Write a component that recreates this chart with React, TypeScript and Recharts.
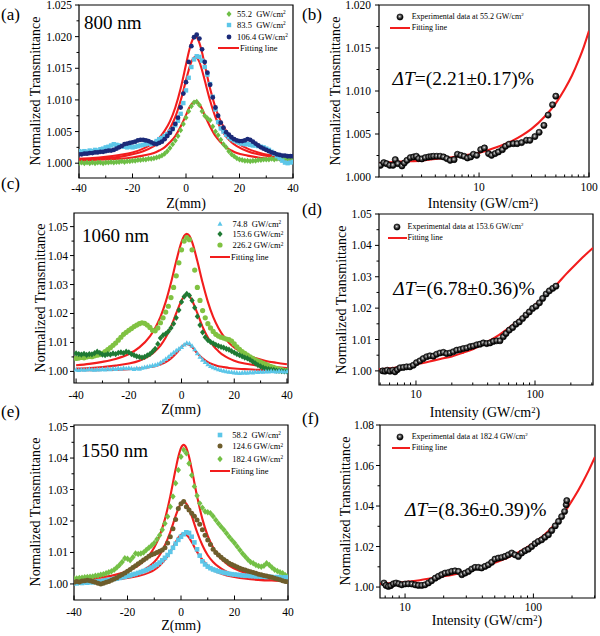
import React from "react";
import { ComposedChart, Scatter, Line, XAxis, YAxis, ReferenceArea } from "recharts";

const FONT = '"Liberation Serif", "DejaVu Serif", serif';
const RED = "#f21d1d";

// Z-scan positions (mm)
const Z_SCAN = [
  -40, -39, -38, -37, -36, -35, -34, -33, -32, -31, -30, -29, -28, -27, -26, -25, -24, -23, -22, -21,
  -20, -19, -18, -17, -16, -15, -14, -13, -12, -11, -10, -9, -8, -7, -6, -5, -4, -3, -2, -1,
  0, 1, 2, 3, 4, 5, 6, 7, 8, 9, 10, 11, 12, 13, 14, 15, 16, 17, 18, 19,
  20, 21, 22, 23, 24, 25, 26, 27, 28, 29, 30, 31, 32, 33, 34, 35, 36, 37, 38, 39, 40,
];

// (a) 800 nm
const A_552 = [
  1.0000, 1.0001, 1.0000, 1.0001, 1.0000, 1.0001, 1.0000, 1.0001, 1.0001, 1.0000,
  1.0001, 1.0001, 1.0002, 1.0001, 1.0002, 1.0002, 1.0003, 1.0002, 1.0003, 1.0003,
  1.0004, 1.0004, 1.0005, 1.0005, 1.0006, 1.0006, 1.0007, 1.0007, 1.0008, 1.0009,
  1.0010, 1.0012, 1.0015, 1.0019, 1.0024, 1.0030, 1.0036, 1.0043, 1.0052, 1.0062,
  1.0072, 1.0082, 1.0090, 1.0096, 1.0097, 1.0092, 1.0082, 1.0075, 1.0071, 1.0068,
  1.0058, 1.0050, 1.0044, 1.0037, 1.0030, 1.0025, 1.0019, 1.0014, 1.0011, 1.0008,
  1.0006, 1.0005, 1.0004, 1.0004, 1.0003, 1.0004, 1.0004, 1.0005, 1.0005, 1.0006,
  1.0006, 1.0006, 1.0007, 1.0006, 1.0007, 1.0007, 1.0007, 1.0008, 1.0007, 1.0008, 1.0008,
];
const A_835 = [
  1.0019, 1.0018, 1.0019, 1.0018, 1.0020, 1.0019, 1.0021, 1.0020, 1.0022, 1.0023,
  1.0025, 1.0026, 1.0028, 1.0030, 1.0029, 1.0028, 1.0027, 1.0026, 1.0025, 1.0026,
  1.0025, 1.0026, 1.0027, 1.0028, 1.0029, 1.0030, 1.0031, 1.0030, 1.0032, 1.0035,
  1.0038, 1.0040, 1.0043, 1.0046, 1.0050, 1.0054, 1.0060, 1.0067, 1.0078, 1.0095,
  1.0115, 1.0135, 1.0152, 1.0164, 1.0169, 1.0168, 1.0162, 1.0152, 1.0140, 1.0125,
  1.0105, 1.0085, 1.0065, 1.0055, 1.0050, 1.0045, 1.0041, 1.0038, 1.0036, 1.0034,
  1.0032, 1.0031, 1.0030, 1.0030, 1.0029, 1.0028, 1.0028, 1.0027, 1.0026, 1.0025,
  1.0023, 1.0021, 1.0018, 1.0015, 1.0011, 1.0008, 1.0004, 1.0001, 1.0000, 1.0001, 1.0002,
];
const A_1064 = [
  1.0014, 1.0014, 1.0015, 1.0015, 1.0016, 1.0016, 1.0017, 1.0017, 1.0018, 1.0018,
  1.0019, 1.0020, 1.0020, 1.0021, 1.0023, 1.0025, 1.0027, 1.0030, 1.0031, 1.0032,
  1.0033, 1.0034, 1.0036, 1.0037, 1.0037, 1.0036, 1.0035, 1.0033, 1.0031, 1.0030,
  1.0032, 1.0034, 1.0038, 1.0043, 1.0048, 1.0054, 1.0062, 1.0072, 1.0088, 1.0110,
  1.0128, 1.0160, 1.0185, 1.0199, 1.0203, 1.0197, 1.0180, 1.0160, 1.0143, 1.0124,
  1.0104, 1.0088, 1.0075, 1.0064, 1.0056, 1.0049, 1.0045, 1.0041, 1.0038, 1.0036,
  1.0035, 1.0035, 1.0036, 1.0038, 1.0037, 1.0034, 1.0031, 1.0028, 1.0025, 1.0023,
  1.0021, 1.0019, 1.0017, 1.0016, 1.0014, 1.0013, 1.0012, 1.0012, 1.0011, 1.0011, 1.0011,
];
const A_FIT_Z = [-40, -35, -30, -25, -20, -16, -12, -10, -8, -6, -4, -2, 0, 1, 2, 3, 3.5, 4, 5, 6, 7, 9, 11, 13, 15, 17, 19, 23, 27, 31, 35, 40];
const A_FIT_HI = [1.0007, 1.0008, 1.001, 1.0013, 1.0017, 1.0023, 1.0033, 1.004, 1.0051, 1.0066, 1.0088, 1.0118, 1.0156, 1.0175, 1.019, 1.0199, 1.02, 1.0199, 1.019, 1.0175, 1.0156, 1.0118, 1.0088, 1.0066, 1.0051, 1.004, 1.0033, 1.0023, 1.0017, 1.0013, 1.0011, 1.0009];
const A_FIT_MID = [1.0006, 1.0007, 1.0008, 1.001, 1.0014, 1.0019, 1.0027, 1.0033, 1.0042, 1.0055, 1.0073, 1.0099, 1.0131, 1.0147, 1.016, 1.0167, 1.0168, 1.0167, 1.016, 1.0147, 1.0131, 1.0099, 1.0073, 1.0055, 1.0042, 1.0033, 1.0027, 1.0019, 1.0014, 1.0011, 1.0009, 1.0007];
const A_FIT_LO = [1.0004, 1.0005, 1.0006, 1.0007, 1.0009, 1.0012, 1.0016, 1.002, 1.0025, 1.0033, 1.0043, 1.0058, 1.0076, 1.0086, 1.0093, 1.0097, 1.0098, 1.0097, 1.0093, 1.0086, 1.0076, 1.0058, 1.0043, 1.0033, 1.0025, 1.002, 1.0016, 1.0012, 1.0009, 1.0007, 1.0006, 1.0005];

// (c) 1060 nm
const C_748 = [
  1.0006, 1.0004, 1.0007, 1.0005, 1.0006, 1.0008, 1.0006, 1.0005, 1.0007, 1.0006,
  1.0008, 1.0006, 1.0009, 1.0007, 1.0010, 1.0008, 1.0011, 1.0009, 1.0012, 1.0010,
  1.0012, 1.0010, 1.0008, 1.0011, 1.0009, 1.0012, 1.0014, 1.0016, 1.0018, 1.0020,
  1.0022, 1.0025, 1.0030, 1.0036, 1.0043, 1.0050, 1.0058, 1.0065, 1.0072, 1.0078,
  1.0084, 1.0092, 1.0098, 1.0096, 1.0088, 1.0076, 1.0062, 1.0050, 1.0040, 1.0032,
  1.0024, 1.0018, 1.0014, 1.0010, 1.0007, 1.0004, 1.0002, 1.0000, 0.9998, 0.9997,
  0.9996, 0.9995, 0.9994, 0.9995, 0.9996, 0.9995, 0.9997, 0.9996, 0.9998, 0.9997,
  0.9999, 0.9998, 1.0000, 0.9999, 1.0001, 1.0000, 0.9999, 1.0001, 1.0000, 0.9999, 1.0000,
];
const C_1536 = [
  1.0062, 1.0060, 1.0058, 1.0061, 1.0057, 1.0060, 1.0059, 1.0063, 1.0068, 1.0064,
  1.0058, 1.0056, 1.0060, 1.0058, 1.0062, 1.0060, 1.0064, 1.0066, 1.0063, 1.0068,
  1.0066, 1.0060, 1.0056, 1.0052, 1.0050, 1.0048, 1.0050, 1.0055, 1.0060, 1.0068,
  1.0078, 1.0095, 1.0115, 1.0125, 1.0130, 1.0138, 1.0150, 1.0165, 1.0185, 1.0212,
  1.0240, 1.0258, 1.0268, 1.0262, 1.0245, 1.0220, 1.0190, 1.0160, 1.0135, 1.0118,
  1.0108, 1.0102, 1.0097, 1.0092, 1.0088, 1.0085, 1.0082, 1.0078, 1.0075, 1.0070,
  1.0065, 1.0060, 1.0056, 1.0052, 1.0048, 1.0045, 1.0040, 1.0034, 1.0028, 1.0022,
  1.0017, 1.0013, 1.0010, 1.0008, 1.0006, 1.0005, 1.0003, 1.0002, 1.0001, 1.0000, 1.0000,
];
const C_2262 = [
  1.0045, 1.0046, 1.0048, 1.0047, 1.0050, 1.0052, 1.0051, 1.0054, 1.0056, 1.0058,
  1.0062, 1.0068, 1.0075, 1.0082, 1.0090, 1.0098, 1.0108, 1.0118, 1.0128, 1.0135,
  1.0142, 1.0148, 1.0155, 1.0160, 1.0165, 1.0168, 1.0166, 1.0160, 1.0152, 1.0142,
  1.0140, 1.0150, 1.0168, 1.0185, 1.0205, 1.0225, 1.0255, 1.0290, 1.0330, 1.0375,
  1.0420, 1.0450, 1.0462, 1.0455, 1.0420, 1.0350, 1.0290, 1.0245, 1.0210, 1.0185,
  1.0165, 1.0150, 1.0138, 1.0128, 1.0122, 1.0118, 1.0115, 1.0112, 1.0110, 1.0105,
  1.0095, 1.0085, 1.0076, 1.0068, 1.0062, 1.0056, 1.0050, 1.0045, 1.0040, 1.0036,
  1.0032, 1.0028, 1.0024, 1.0020, 1.0017, 1.0014, 1.0011, 1.0008, 1.0006, 1.0004, 1.0003,
];
const C_FIT_Z = [-40, -35, -30, -25, -20, -16, -12, -10, -8, -6, -4, -2, 0, 1, 2, 3, 4, 6, 8, 10, 12, 14, 16, 18, 20, 24, 28, 32, 36, 40];
const C_FIT_HI = [1.0021, 1.0026, 1.0033, 1.0043, 1.006, 1.0083, 1.0121, 1.015, 1.0188, 1.024, 1.0306, 1.0381, 1.0447, 1.0468, 1.0475, 1.0468, 1.0447, 1.0381, 1.0306, 1.024, 1.0188, 1.015, 1.0121, 1.0099, 1.0083, 1.006, 1.0046, 1.0036, 1.003, 1.0025];
const C_FIT_MID = [1.001, 1.0012, 1.0015, 1.002, 1.0027, 1.0037, 1.0055, 1.007, 1.0089, 1.0117, 1.0154, 1.0201, 1.0245, 1.026, 1.0265, 1.026, 1.0245, 1.0201, 1.0154, 1.0117, 1.0089, 1.007, 1.0055, 1.0045, 1.0037, 1.0027, 1.0021, 1.0017, 1.0014, 1.0012];
const C_FIT_LO = [1.0004, 1.0004, 1.0005, 1.0006, 1.0008, 1.001, 1.0015, 1.0018, 1.0024, 1.0032, 1.0045, 1.0063, 1.0084, 1.0092, 1.0095, 1.0092, 1.0084, 1.0063, 1.0045, 1.0032, 1.0024, 1.0018, 1.0015, 1.0012, 1.001, 1.0008, 1.0006, 1.0005, 1.0004, 1.0004];

// (e) 1550 nm
const E_582 = [
  1.0003, 1.0002, 1.0004, 1.0003, 1.0005, 1.0004, 1.0006, 1.0005, 1.0007, 1.0008,
  1.0008, 1.0010, 1.0011, 1.0013, 1.0014, 1.0016, 1.0017, 1.0019, 1.0021, 1.0023,
  1.0025, 1.0027, 1.0030, 1.0032, 1.0035, 1.0038, 1.0041, 1.0044, 1.0048, 1.0052,
  1.0057, 1.0062, 1.0068, 1.0075, 1.0083, 1.0092, 1.0102, 1.0115, 1.0128, 1.0140,
  1.0150, 1.0158, 1.0164, 1.0162, 1.0150, 1.0132, 1.0110, 1.0090, 1.0072, 1.0062,
  1.0055, 1.0050, 1.0046, 1.0043, 1.0040, 1.0038, 1.0036, 1.0034, 1.0032, 1.0031,
  1.0030, 1.0029, 1.0028, 1.0027, 1.0026, 1.0026, 1.0025, 1.0025, 1.0024, 1.0024,
  1.0023, 1.0023, 1.0022, 1.0023, 1.0022, 1.0021, 1.0022, 1.0021, 1.0020, 1.0021, 1.0020,
];
const E_1246 = [
  1.0005, 1.0008, 1.0006, 1.0009, 1.0010, 1.0012, 1.0010, 1.0008, 1.0005, 1.0002,
  1.0000, 1.0002, 1.0005, 1.0008, 1.0012, 1.0016, 1.0020, 1.0025, 1.0030, 1.0035,
  1.0040, 1.0046, 1.0052, 1.0058, 1.0064, 1.0070, 1.0076, 1.0082, 1.0088, 1.0093,
  1.0096, 1.0100, 1.0104, 1.0108, 1.0115, 1.0130, 1.0150, 1.0175, 1.0205, 1.0240,
  1.0255, 1.0262, 1.0245, 1.0235, 1.0225, 1.0215, 1.0203, 1.0190, 1.0172, 1.0155,
  1.0140, 1.0125, 1.0110, 1.0100, 1.0092, 1.0085, 1.0078, 1.0072, 1.0066, 1.0062,
  1.0058, 1.0054, 1.0050, 1.0047, 1.0044, 1.0041, 1.0039, 1.0036, 1.0034, 1.0031,
  1.0029, 1.0027, 1.0025, 1.0023, 1.0021, 1.0018, 1.0016, 1.0013, 1.0010, 1.0008, 1.0007,
];
const E_1824 = [
  1.0018, 1.0017, 1.0019, 1.0020, 1.0021, 1.0022, 1.0023, 1.0024, 1.0026, 1.0027,
  1.0029, 1.0031, 1.0034, 1.0037, 1.0040, 1.0045, 1.0052, 1.0060, 1.0070, 1.0082,
  1.0080, 1.0075, 1.0085, 1.0097, 1.0095, 1.0097, 1.0100, 1.0108, 1.0115, 1.0122,
  1.0130, 1.0142, 1.0155, 1.0172, 1.0192, 1.0214, 1.0245, 1.0278, 1.0320, 1.0362,
  1.0404, 1.0426, 1.0415, 1.0383, 1.0345, 1.0310, 1.0280, 1.0256, 1.0242, 1.0230,
  1.0228, 1.0225, 1.0215, 1.0203, 1.0192, 1.0182, 1.0172, 1.0161, 1.0150, 1.0140,
  1.0130, 1.0119, 1.0108, 1.0097, 1.0087, 1.0078, 1.0070, 1.0066, 1.0060, 1.0057,
  1.0055, 1.0058, 1.0066, 1.0060, 1.0052, 1.0045, 1.0041, 1.0037, 1.0034, 1.0028, 1.0023,
];
const E_FIT_Z = [-40, -35, -30, -25, -20, -16, -12, -10, -8, -6, -4, -2, -1, 0, 1, 2, 3, 4, 6, 8, 10, 12, 14, 16, 18, 22, 26, 30, 34, 38, 40];
const E_FIT_HI = [1.0013, 1.0016, 1.0021, 1.0028, 1.0041, 1.0058, 1.009, 1.0116, 1.0153, 1.0206, 1.0279, 1.0365, 1.0404, 1.0432, 1.0442, 1.0432, 1.0404, 1.0365, 1.0279, 1.0206, 1.0153, 1.0116, 1.009, 1.0072, 1.0058, 1.0041, 1.003, 1.0023, 1.0018, 1.0015, 1.0014];
const E_FIT_MID = [1.0009, 1.0011, 1.0014, 1.0018, 1.0026, 1.0036, 1.0055, 1.007, 1.0091, 1.0123, 1.0165, 1.0216, 1.0239, 1.0255, 1.0261, 1.0255, 1.0239, 1.0216, 1.0165, 1.0123, 1.0091, 1.007, 1.0055, 1.0044, 1.0036, 1.0026, 1.0019, 1.0015, 1.0013, 1.0011, 1.001];
const E_FIT_LO = [1.0009, 1.001, 1.0012, 1.0014, 1.0019, 1.0025, 1.0036, 1.0045, 1.0058, 1.0077, 1.0102, 1.0133, 1.0147, 1.0156, 1.016, 1.0156, 1.0147, 1.0133, 1.0102, 1.0077, 1.0058, 1.0045, 1.0036, 1.003, 1.0025, 1.0019, 1.0015, 1.0012, 1.0011, 1.001, 1.0009];

// (b) intensity dependence at 55.2 GW/cm2
const B_I = [1.27, 1.36, 1.44, 1.54, 1.65, 1.73, 1.83, 1.99, 2.09, 2.21, 2.37, 2.54, 2.69, 2.82, 3.02, 3.24, 3.48, 3.67, 3.86, 4.13, 4.43, 4.75, 5.09, 5.46, 5.93, 6.36, 6.82, 7.31, 7.84, 8.4, 8.89, 9.52, 10.35, 11.2, 12.2, 13.0, 14.0, 15.0, 16.3, 17.4, 18.7, 20.5, 22.2, 24.4, 27.0, 29.0, 32.2, 35.2, 38.9, 42.5, 46.6, 49.9];
const B_T = [1.00136, 1.00167, 1.00155, 1.00136, 1.00136, 1.00202, 1.00155, 1.00128, 1.00163, 1.00194, 1.00225, 1.00233, 1.00241, 1.00214, 1.0021, 1.00225, 1.00233, 1.00237, 1.00241, 1.00241, 1.00241, 1.00233, 1.00214, 1.00194, 1.00202, 1.00264, 1.00252, 1.00241, 1.00221, 1.00233, 1.00264, 1.00252, 1.00318, 1.00338, 1.00272, 1.00252, 1.00272, 1.00291, 1.00318, 1.00357, 1.00381, 1.00388, 1.00388, 1.004, 1.00427, 1.00427, 1.0047, 1.0052, 1.006, 1.0072, 1.0084, 1.0094];
const B_FIT_I = [1.23, 1.5, 2, 3, 4, 5, 7, 10, 14, 20, 25, 30, 40, 50, 60, 70, 80, 90, 100];
const B_FIT_T = [1.0016, 1.0017, 1.0018, 1.0019, 1.0021, 1.0022, 1.0025, 1.0028, 1.0034, 1.0042, 1.0049, 1.0056, 1.0071, 1.0086, 1.0102, 1.0118, 1.0135, 1.0152, 1.017];

// (d) at 153.6 GW/cm2
const D_I = [5.25, 5.49, 5.74, 6.05, 6.37, 6.66, 6.97, 7.34, 7.83, 8.35, 8.9, 9.5, 10.1, 10.8, 11.5, 12.3, 13.1, 14.0, 14.9, 15.9, 17.0, 18.1, 19.3, 20.6, 22.0, 23.5, 25.0, 26.7, 28.5, 30.3, 32.4, 34.5, 36.8, 39.3, 41.9, 44.7, 47.7, 50.8, 54.2, 57.1, 60.8, 64.9, 69.2, 73.8, 78.7, 84.0, 89.6, 95.5, 102, 109, 116, 124, 132, 141, 150];
const D_T = [1.0, 0.9999, 1.0002, 0.9999, 1.0002, 0.9997, 1.0004, 1.001, 1.0011, 1.0013, 1.0013, 1.0018, 1.0026, 1.0032, 1.0039, 1.0045, 1.0048, 1.0047, 1.0053, 1.0057, 1.0059, 1.0055, 1.0057, 1.0061, 1.0066, 1.0068, 1.0071, 1.0073, 1.0077, 1.0079, 1.0083, 1.0085, 1.0089, 1.0087, 1.0089, 1.0094, 1.0096, 1.0096, 1.0109, 1.0119, 1.013, 1.0138, 1.0149, 1.0156, 1.0167, 1.0178, 1.0188, 1.0199, 1.0206, 1.0217, 1.0231, 1.0245, 1.0255, 1.0263, 1.027];
const D_FIT_I = [4.89, 6, 8, 10, 13, 16, 20, 25, 30, 40, 50, 60, 70, 85, 100, 120, 150, 184, 220, 260, 307];
const D_FIT_T = [1.0005, 1.0008, 1.0015, 1.0021, 1.003, 1.0038, 1.0046, 1.0058, 1.0069, 1.0093, 1.0115, 1.0136, 1.0156, 1.0184, 1.021, 1.0238, 1.0273, 1.031, 1.034, 1.0367, 1.0392];

// (f) at 182.4 GW/cm2
const F_I = [6.85, 7.11, 7.41, 7.73, 8.11, 8.51, 8.93, 9.42, 10.0, 10.6, 11.3, 12.0, 12.7, 13.5, 14.3, 15.2, 16.1, 17.2, 18.2, 19.3, 20.5, 21.8, 23.1, 24.5, 26.1, 27.7, 29.4, 31.2, 33.1, 35.1, 37.3, 39.5, 42.0, 44.6, 47.3, 50.2, 53.3, 56.6, 60.1, 63.8, 67.8, 71.9, 76.4, 81.1, 86.1, 91.4, 97.0, 103, 109, 116, 123, 131, 139, 148, 157, 166, 175, 180, 182];
const F_T = [1.002, 1.0008, 1.0003, 1.0007, 1.0016, 1.002, 1.0016, 1.0011, 1.0015, 1.0016, 1.0015, 1.0011, 1.0008, 1.0008, 1.0011, 1.002, 1.0031, 1.0044, 1.0053, 1.0061, 1.0069, 1.0072, 1.0077, 1.008, 1.0077, 1.0061, 1.0069, 1.0077, 1.0089, 1.0097, 1.0097, 1.0094, 1.0102, 1.011, 1.0122, 1.0138, 1.0143, 1.0146, 1.0151, 1.0159, 1.0168, 1.0159, 1.0151, 1.0168, 1.0179, 1.0187, 1.02, 1.0214, 1.0225, 1.0233, 1.0246, 1.0258, 1.0279, 1.0302, 1.0324, 1.0348, 1.0373, 1.0406, 1.0427];
const F_FIT_I = [6.38, 8, 10, 13, 16, 20, 25, 30, 40, 50, 60, 70, 85, 100, 120, 140, 160, 182, 210, 240, 270, 302];
const F_FIT_T = [1.0016, 1.002, 1.0025, 1.0034, 1.0043, 1.0053, 1.0065, 1.0077, 1.0099, 1.012, 1.014, 1.0159, 1.0188, 1.0217, 1.0254, 1.0295, 1.0338, 1.0386, 1.0448, 1.0513, 1.0576, 1.0642];

const Z_TICKS = [-40, -30, -20, -10, 0, 10, 20, 30, 40];
const Z_LABELS = [-40, -20, 0, 20, 40];

type Kind = "diamond" | "square" | "circle" | "triangle" | "ball";

function marker(kind: Kind, cx: number, cy: number, color: string, s: number) {
  switch (kind) {
    case "diamond":
      return <polygon points={`${cx},${cy - s * 1.2} ${cx + s},${cy} ${cx},${cy + s * 1.2} ${cx - s},${cy}`} fill={color} />;
    case "square":
      return <rect x={cx - s} y={cy - s} width={2 * s} height={2 * s} fill={color} />;
    case "circle":
      return <circle cx={cx} cy={cy} r={s} fill={color} />;
    case "triangle":
      return <polygon points={`${cx},${cy - s * 1.2} ${cx + s * 1.1},${cy + s * 0.8} ${cx - s * 1.1},${cy + s * 0.8}`} fill={color} />;
    default:
      return <circle cx={cx} cy={cy} r={s} fill="url(#ballGrad)" stroke="#000" strokeWidth={0.6} />;
  }
}

interface Series {
  xs: number[];
  ys: number[];
  kind: Kind;
  color: string;
  size: number;
}

interface PanelProps {
  x0: number;
  plot: [number, number, number, number];
  xDomain: [number, number];
  log?: boolean;
  xTicks: number[];
  xLabels: number[];
  yDomain: [number, number];
  yTicks: number[];
  yLabels: number[];
  yDigits: number;
  xLabelDy: number;
  yLabelGap: number;
  series: Series[];
  fits: { xs: number[]; ys: number[] }[];
}

const isIn = (list: number[], v: number) => list.some((l) => Math.abs(l - v) < 1e-7);

function Panel(p: PanelProps) {
  const [l, t, r, b] = p.plot;
  const mTop = 6;
  const xh = 26;
  const height = b - t + mTop + xh;

  const xTick = (props: any) => {
    const v = props.payload.value;
    const major = isIn(p.xLabels, v);
    return (
      <g>
        <line x1={props.x} x2={props.x} y1={props.y} y2={props.y - (major ? 4.5 : 2.5)} stroke="#000" strokeWidth={1} />
        {major && (
          <text x={props.x} y={props.y + p.xLabelDy} textAnchor="middle" dominantBaseline="central" fontSize={11.5} fontFamily={FONT} fill="#000">
            {v}
          </text>
        )}
      </g>
    );
  };

  const yTick = (props: any) => {
    const v = props.payload.value;
    const major = isIn(p.yLabels, v);
    return (
      <g>
        <line x1={props.x - (major ? 4 : 2.5)} x2={props.x} y1={props.y} y2={props.y} stroke="#000" strokeWidth={1} />
        {major && (
          <text x={props.x - p.yLabelGap} y={props.y} textAnchor="end" dominantBaseline="central" fontSize={11.5} fontFamily={FONT} fill="#000">
            {v.toFixed(p.yDigits)}
          </text>
        )}
      </g>
    );
  };

  return (
    <div style={{ position: "absolute", left: p.x0, top: t - mTop }}>
      <ComposedChart width={300} height={height} margin={{ top: mTop, right: p.x0 + 300 - r, bottom: 0, left: 0 }}>
        <XAxis
          dataKey="x"
          type="number"
          scale={p.log ? "log" : "linear"}
          domain={p.xDomain}
          allowDataOverflow
          ticks={p.xTicks}
          interval={0}
          height={xh}
          axisLine={false}
          tickLine={false}
          tickSize={0}
          tickMargin={0}
          tick={xTick}
        />
        <YAxis
          dataKey="y"
          type="number"
          domain={p.yDomain}
          allowDataOverflow
          ticks={p.yTicks}
          interval={0}
          width={l - p.x0}
          axisLine={false}
          tickLine={false}
          tickSize={0}
          tickMargin={0}
          tick={yTick}
        />
        {p.series.map((s, i) => (
          <Scatter
            key={"s" + i}
            data={s.xs.map((x, j) => ({ x, y: s.ys[j] }))}
            isAnimationActive={false}
            shape={(sp: any) => marker(s.kind, sp.cx, sp.cy, s.color, s.size)}
          />
        ))}
        {p.fits.map((f, i) => (
          <Line
            key={"f" + i}
            data={f.xs.map((x, j) => ({ x, y: f.ys[j] }))}
            dataKey="y"
            type="monotone"
            stroke={RED}
            strokeWidth={2.1}
            dot={false}
            isAnimationActive={false}
          />
        ))}
        <ReferenceArea
          x1={p.xDomain[0]}
          x2={p.xDomain[1]}
          y1={p.yDomain[0]}
          y2={p.yDomain[1]}
          fill="none"
          stroke="#000"
          strokeWidth={1.2}
          ifOverflow="visible"
        />
      </ComposedChart>
    </div>
  );
}

function Txt(props: { x: number; y: number; size: number; anchor?: "start" | "middle"; rotate?: boolean; children: React.ReactNode }) {
  const tx = props.anchor === "middle" || props.rotate ? "-50%" : "0";
  return (
    <div
      style={{
        position: "absolute",
        left: props.x,
        top: props.y,
        fontSize: props.size,
        fontFamily: FONT,
        lineHeight: 1,
        whiteSpace: "pre",
        color: "#000",
        transform: `translate(${tx}, -50%)${props.rotate ? " rotate(-90deg)" : ""}`,
      }}
    >
      {props.children}
    </div>
  );
}

const Sup = ({ children }: { children: React.ReactNode }) => (
  <span style={{ fontSize: "0.62em", position: "relative", top: "-0.5em" }}>{children}</span>
);

function Mark(props: { x: number; y: number; kind: Kind; color: string; size: number }) {
  return (
    <svg width={12} height={12} style={{ position: "absolute", left: props.x - 6, top: props.y - 6 }}>
      {marker(props.kind, 6, 6, props.color, props.size)}
    </svg>
  );
}

function RedLine(props: { x1: number; x2: number; y: number }) {
  return <div style={{ position: "absolute", left: props.x1, top: props.y - 1, width: props.x2 - props.x1, height: 2, background: RED }} />;
}

interface LegendRow {
  label: string;
  kind: Kind;
  color: string;
  size: number;
}

function ZLegend(props: { rows: LegendRow[]; ys: number[]; mx: number; tx: number; lx1: number; lx2: number; ltx: number }) {
  return (
    <>
      {props.rows.map((row, i) => (
        <React.Fragment key={i}>
          <Mark x={props.mx} y={props.ys[i]} kind={row.kind} color={row.color} size={row.size} />
          <Txt x={props.tx} y={props.ys[i]} size={8.5}>
            {row.label}
            <Sup>2</Sup>
          </Txt>
        </React.Fragment>
      ))}
      <RedLine x1={props.lx1} x2={props.lx2} y={props.ys[3]} />
      <Txt x={props.ltx} y={props.ys[3]} size={8.5}>Fitting line</Txt>
    </>
  );
}

function ILegend(props: { intensity: string; mx: number; my: number; tx: number; lx1: number; lx2: number; ly: number }) {
  return (
    <>
      <Mark x={props.mx} y={props.my} kind="ball" color="#000" size={3.1} />
      <Txt x={props.tx} y={props.my} size={8}>
        {`Experimental data at ${props.intensity} GW/cm`}
        <Sup>2</Sup>
      </Txt>
      <RedLine x1={props.lx1} x2={props.lx2} y={props.ly} />
      <Txt x={props.tx} y={props.ly} size={8}>Fitting line</Txt>
    </>
  );
}

const G1 = "#6dbe45";
const CYAN = "#5cc6e8";
const NAVY = "#1b2a78";
const DKGREEN = "#1f7a34";
const LTGREEN = "#80c242";
const OLIVE = "#6e5d2c";

export default function App() {
  const yTitle = "Normalized Transmittance";
  return (
    <div style={{ position: "absolute", left: 0, top: 0, width: 600, height: 636, background: "#fff", overflow: "hidden" }}>
      <svg width={0} height={0} style={{ position: "absolute" }}>
        <defs>
          <radialGradient id="ballGrad" cx="0.45" cy="0.42" r="0.6">
            <stop offset="0" stopColor="#f4f4f4" />
            <stop offset="0.28" stopColor="#7a7a7a" />
            <stop offset="0.7" stopColor="#111111" />
            <stop offset="1" stopColor="#000000" />
          </radialGradient>
        </defs>
      </svg>

      {/* (a) */}
      <Panel
        x0={0}
        plot={[79, 5, 293, 178]}
        xDomain={[-40, 40]}
        xTicks={Z_TICKS}
        xLabels={Z_LABELS}
        yDomain={[0.99766, 1.025]}
        yTicks={[1.0, 1.0025, 1.005, 1.0075, 1.01, 1.0125, 1.015, 1.0175, 1.02, 1.0225, 1.025]}
        yLabels={[1.0, 1.005, 1.01, 1.015, 1.02, 1.025]}
        yDigits={3}
        xLabelDy={9.5}
        yLabelGap={7}
        series={[
          { xs: Z_SCAN, ys: A_552, kind: "diamond", color: G1, size: 2.5 },
          { xs: Z_SCAN, ys: A_835, kind: "square", color: CYAN, size: 2.2 },
          { xs: Z_SCAN, ys: A_1064, kind: "circle", color: NAVY, size: 2.4 },
        ]}
        fits={[
          { xs: A_FIT_Z, ys: A_FIT_HI },
          { xs: A_FIT_Z, ys: A_FIT_MID },
          { xs: A_FIT_Z, ys: A_FIT_LO },
        ]}
      />
      {/* (b) */}
      <Panel
        x0={300}
        plot={[379, 5, 589, 177]}
        xDomain={[1.23, 100]}
        log
        xTicks={[2, 3, 4, 5, 6, 7, 8, 9, 10, 20, 30, 40, 50, 60, 70, 80, 90, 100]}
        xLabels={[10, 100]}
        yDomain={[1.0, 1.02]}
        yTicks={[1.0, 1.0025, 1.005, 1.0075, 1.01, 1.0125, 1.015, 1.0175, 1.02]}
        yLabels={[1.0, 1.005, 1.01, 1.015, 1.02]}
        yDigits={3}
        xLabelDy={10}
        yLabelGap={8}
        series={[{ xs: B_I, ys: B_T, kind: "ball", color: "#000", size: 3.1 }]}
        fits={[{ xs: B_FIT_I, ys: B_FIT_T }]}
      />
      {/* (c) */}
      <Panel
        x0={0}
        plot={[74, 213, 288, 383]}
        xDomain={[-40.8, 40.4]}
        xTicks={Z_TICKS}
        xLabels={Z_LABELS}
        yDomain={[0.996, 1.0547]}
        yTicks={[1.0, 1.005, 1.01, 1.015, 1.02, 1.025, 1.03, 1.035, 1.04, 1.045, 1.05]}
        yLabels={[1.0, 1.01, 1.02, 1.03, 1.04, 1.05]}
        yDigits={2}
        xLabelDy={12}
        yLabelGap={6}
        series={[
          { xs: Z_SCAN, ys: C_2262, kind: "circle", color: LTGREEN, size: 2.6 },
          { xs: Z_SCAN, ys: C_1536, kind: "diamond", color: DKGREEN, size: 2.6 },
          { xs: Z_SCAN, ys: C_748, kind: "triangle", color: CYAN, size: 2.3 },
        ]}
        fits={[
          { xs: C_FIT_Z, ys: C_FIT_HI },
          { xs: C_FIT_Z, ys: C_FIT_MID },
          { xs: C_FIT_Z, ys: C_FIT_LO },
        ]}
      />
      {/* (d) */}
      <Panel
        x0={300}
        plot={[379, 214, 593, 385]}
        xDomain={[4.89, 307]}
        log
        xTicks={[5, 6, 7, 8, 9, 10, 20, 30, 40, 50, 60, 70, 80, 90, 100, 200, 300]}
        xLabels={[10, 100]}
        yDomain={[0.9955, 1.05]}
        yTicks={[1.0, 1.005, 1.01, 1.015, 1.02, 1.025, 1.03, 1.035, 1.04, 1.045, 1.05]}
        yLabels={[1.0, 1.01, 1.02, 1.03, 1.04, 1.05]}
        yDigits={2}
        xLabelDy={8.5}
        yLabelGap={7.3}
        series={[{ xs: D_I, ys: D_T, kind: "ball", color: "#000", size: 3.1 }]}
        fits={[{ xs: D_FIT_I, ys: D_FIT_T }]}
      />
      {/* (e) */}
      <Panel
        x0={0}
        plot={[74, 425, 288, 600]}
        xDomain={[-40, 40]}
        xTicks={Z_TICKS}
        xLabels={Z_LABELS}
        yDomain={[0.9949, 1.0505]}
        yTicks={[1.0, 1.005, 1.01, 1.015, 1.02, 1.025, 1.03, 1.035, 1.04, 1.045, 1.05]}
        yLabels={[1.0, 1.01, 1.02, 1.03, 1.04, 1.05]}
        yDigits={2}
        xLabelDy={11.5}
        yLabelGap={6}
        series={[
          { xs: Z_SCAN, ys: E_1824, kind: "diamond", color: "#74c046", size: 2.7 },
          { xs: Z_SCAN, ys: E_582, kind: "square", color: CYAN, size: 2.3 },
          { xs: Z_SCAN, ys: E_1246, kind: "circle", color: OLIVE, size: 2.5 },
        ]}
        fits={[
          { xs: E_FIT_Z, ys: E_FIT_HI },
          { xs: E_FIT_Z, ys: E_FIT_MID },
          { xs: E_FIT_Z, ys: E_FIT_LO },
        ]}
      />
      {/* (f) */}
      <Panel
        x0={300}
        plot={[380, 425, 595, 598]}
        xDomain={[6.38, 302]}
        log
        xTicks={[7, 8, 9, 10, 20, 30, 40, 50, 60, 70, 80, 90, 100, 200, 300]}
        xLabels={[10, 100]}
        yDomain={[0.9946, 1.08]}
        yTicks={[1.0, 1.01, 1.02, 1.03, 1.04, 1.05, 1.06, 1.07, 1.08]}
        yLabels={[1.0, 1.02, 1.04, 1.06, 1.08]}
        yDigits={2}
        xLabelDy={9}
        yLabelGap={6}
        series={[{ xs: F_I, ys: F_T, kind: "ball", color: "#000", size: 3.1 }]}
        fits={[{ xs: F_FIT_I, ys: F_FIT_T }]}
      />

      {/* panel letters */}
      <Txt x={1} y={14} size={17}>(a)</Txt>
      <Txt x={302} y={14} size={17}>(b)</Txt>
      <Txt x={1} y={183} size={17}>(c)</Txt>
      <Txt x={302} y={209} size={17}>(d)</Txt>
      <Txt x={1} y={411} size={17}>(e)</Txt>
      <Txt x={302} y={418} size={17}>(f)</Txt>

      {/* wavelengths */}
      <Txt x={84} y={22} size={19}>800 nm</Txt>
      <Txt x={82} y={235} size={19}>1060 nm</Txt>
      <Txt x={81} y={450} size={19}>1550 nm</Txt>

      {/* axis titles */}
      <Txt x={36} y={91} size={14} rotate>{yTitle}</Txt>
      <Txt x={336} y={91} size={14} rotate>{yTitle}</Txt>
      <Txt x={41} y={298} size={14} rotate>{yTitle}</Txt>
      <Txt x={342} y={300} size={14} rotate>{yTitle}</Txt>
      <Txt x={36} y={512} size={14} rotate>{yTitle}</Txt>
      <Txt x={346} y={511} size={14} rotate>{yTitle}</Txt>

      <Txt x={186} y={204} size={14} anchor="middle">Z(mm)</Txt>
      <Txt x={181} y={410} size={14} anchor="middle">Z(mm)</Txt>
      <Txt x={181} y={626} size={14} anchor="middle">Z(mm)</Txt>
      <Txt x={483} y={204} size={14} anchor="middle">
        Intensity (GW/cm<Sup>2</Sup>)
      </Txt>
      <Txt x={485} y={413} size={14} anchor="middle">
        Intensity (GW/cm<Sup>2</Sup>)
      </Txt>
      <Txt x={487} y={621} size={14} anchor="middle">
        Intensity (GW/cm<Sup>2</Sup>)
      </Txt>

      {/* legends */}
      <ZLegend
        rows={[
          { label: "55.2  GW/cm", kind: "diamond", color: G1, size: 2.5 },
          { label: "83.5  GW/cm", kind: "square", color: CYAN, size: 2.2 },
          { label: "106.4 GW/cm", kind: "circle", color: NAVY, size: 2.4 },
        ]}
        ys={[13.5, 25, 36.7, 48.3]}
        mx={229}
        tx={237}
        lx1={218}
        lx2={239}
        ltx={240}
      />
      <ZLegend
        rows={[
          { label: "74.8  GW/cm", kind: "triangle", color: CYAN, size: 2.3 },
          { label: "153.6 GW/cm", kind: "diamond", color: DKGREEN, size: 2.6 },
          { label: "226.2 GW/cm", kind: "circle", color: LTGREEN, size: 2.6 },
        ]}
        ys={[223.5, 234.3, 245.2, 257.3]}
        mx={220}
        tx={232.5}
        lx1={210}
        lx2={230}
        ltx={231}
      />
      <ZLegend
        rows={[
          { label: "58.2  GW/cm", kind: "square", color: CYAN, size: 2.3 },
          { label: "124.6 GW/cm", kind: "circle", color: OLIVE, size: 2.5 },
          { label: "182.4 GW/cm", kind: "diamond", color: "#74c046", size: 2.7 },
        ]}
        ys={[435, 446.3, 459, 471]}
        mx={220}
        tx={232.3}
        lx1={210}
        lx2={230}
        ltx={231}
      />
      <ILegend intensity="55.2" mx={399.5} my={16.7} tx={411.7} lx1={390} lx2={410} ly={28.3} />
      <ILegend intensity="153.6" mx={396.7} my={226.7} tx={407.5} lx1={387.5} lx2={406.5} ly={238.3} />
      <ILegend intensity="182.4" mx={400} my={436.7} tx={411.7} lx1={391.5} lx2={410} ly={447.7} />

      {/* ΔT annotations */}
      <Txt x={392.5} y={78.5} size={19.5}>
        <i>ΔT</i>=(2.21±0.17)%
      </Txt>
      <Txt x={393.3} y={289} size={19.5}>
        <i>ΔT</i>=(6.78±0.36)%
      </Txt>
      <Txt x={405} y={510} size={19.5}>
        <i>ΔT</i>=(8.36±0.39)%
      </Txt>
    </div>
  );
}
